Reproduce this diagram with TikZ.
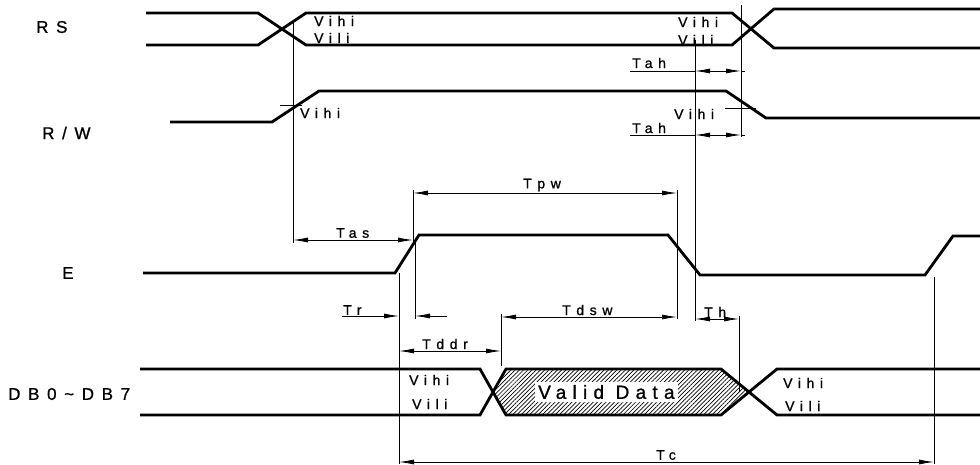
\documentclass[tikz,border=0pt]{standalone}
\usepackage{fontspec}
\setmainfont{Liberation Sans}
\newfontfamily\bigfont[LetterSpace=45,FakeBold=1]{Liberation Sans}
\newfontfamily\smfont[LetterSpace=40,FakeBold=1]{Liberation Sans}
\newfontfamily\vdfont[LetterSpace=33,FakeBold=1]{Liberation Sans}
\usetikzlibrary{arrows.meta,patterns.meta}
\begin{document}
\begin{tikzpicture}[x=1pt,y=-1pt,
 sig/.style={line width=2.8pt,line join=miter},
 ext/.style={line width=0.8pt},
 dim/.style={line width=0.8pt},
 onetip/.style={dim,-{Latex[length=15pt,width=5pt]}},
 twotips/.style={dim,{Latex[length=15pt,width=5pt]}-{Latex[length=15pt,width=5pt]}},
 big/.style={font=\bigfont\fontsize{17}{17}\selectfont, inner sep=0pt},
 sm/.style={font=\smfont\fontsize{14}{14}\selectfont, inner sep=0pt},
 vd/.style={font=\vdfont\fontsize{19}{19}\selectfont, fill=white, inner xsep=3pt, inner ysep=3pt},
]
\useasboundingbox[fill=white] (0,0) rectangle (980,465);

% ---------- signal names
\node[big,anchor=west] (nRS) at (36,27) {RS};
\node[big,anchor=west] (nRW) at (42,133) {R/W};
\node[big,anchor=west] (nE)  at (62,273) {E};
\node[big,anchor=west] (nDB) at (8,394) {DB0\char"007E DB7};

% ---------- hatched valid data region
\coordinate (xl) at (493,392);
\coordinate (xr) at (749,392);
\path[pattern={Lines[angle=45,distance=3pt,line width=0.7pt]}]
  (xl) -- (506,369) -- (721,369) -- (xr) -- (721,415) -- (506,415) -- cycle;
\node[vd,anchor=west] (valid) at (535,392) {Valid Data};

% ---------- signals
% RS
\draw[sig] (146,13) -- (258,13) -- (306,45) -- (732,45) -- (774,9) -- (980,9);
\draw[sig] (146,45) -- (258,45) -- (306,13) -- (732,13) -- (774,48) -- (980,48);
% R/W
\draw[sig] (170,122) -- (272,122) -- (319,91) -- (726,91) -- (766,118) -- (980,118);
% E
\draw[sig] (143,273) -- (395,273) -- (419,235) -- (668,235) -- (700,275) -- (925,275) -- (953,236) -- (980,236);
% DB
\draw[sig] (140,369) -- (480,369) -- (506,415) -- (721,415) -- (777,369) -- (980,369);
\draw[sig] (140,415) -- (480,415) -- (506,369) -- (721,369) -- (777,415) -- (980,415);

% ---------- level labels
\node[sm,anchor=west] (v1) at (314,21) {Vihi};
\node[sm,anchor=west] (v2) at (314,38) {Vili};
\node[sm,anchor=west] (v3) at (678,22) {Vihi};
\node[sm,anchor=west] (v4) at (678,40) {Vili};
\node[sm,anchor=west] (v5) at (300,113) {Vihi};
\node[sm,anchor=west] (v6) at (674,114) {Vihi};
\node[sm,anchor=west] (v7) at (409,380) {Vihi};
\node[sm,anchor=west] (v8) at (412,404) {Vili};
\node[sm,anchor=west] (v9) at (783,383) {Vihi};
\node[sm,anchor=west] (v10) at (785,406) {Vili};

% threshold ticks on R/W
\draw[ext] (280,105) -- (302,105);
\draw[ext] (725,108) -- (756,108);

% ---------- extension lines
\coordinate (a1) at (293,20);   \coordinate (a2) at (293,243);
\coordinate (b1) at (741,5);    \coordinate (b2) at (741,137);
\coordinate (c1) at (695,40);   \coordinate (c2) at (695,321);
\coordinate (d1) at (413,190);  \coordinate (d2) at (413,243);
\coordinate (e1) at (677,190);  \coordinate (e2) at (677,319);
\coordinate (f1) at (399,273);  \coordinate (f2) at (399,464);
\coordinate (g1) at (415,243);  \coordinate (g2) at (415,319);
\coordinate (h1) at (501,314);  \coordinate (h2) at (501,366);
\coordinate (i1) at (739,316);  \coordinate (i2) at (739,392);
\coordinate (j1) at (934,277);  \coordinate (j2) at (934,464);
\foreach \p/\q in {a1/a2,b1/b2,c1/c2,d1/d2,e1/e2,f1/f2,g1/g2,h1/h2,i1/i2,j1/j2}
  \draw[ext] (\p) -- (\q);

% ---------- dimensions
% Tah (RS)
\draw[dim] (630,71) -- (695,71);
\draw[twotips] (695,71) -- (741,71);
\draw[dim] (741,71) -- (745,71);
\node[sm,anchor=west] (tah1) at (632,63) {Tah};
% Tah (R/W)
\draw[dim] (630,135) -- (695,135);
\draw[twotips] (695,135) -- (741,135);
\draw[dim] (741,135) -- (745,135);
\node[sm,anchor=west] (tah2) at (632,128) {Tah};
% Tas
\draw[twotips] (293,240) -- (413,240);
\node[sm,anchor=west] (tas) at (336,233) {Tas};
% Tpw
\draw[twotips] (413,193) -- (677,193);
\node[sm,anchor=west] (tpw) at (523,185) {Tpw};
% Tr
\draw[onetip] (342,316) -- (399,316);
\draw[onetip] (447,316) -- (415,316);
\node[sm,anchor=west] (tr) at (343,310) {Tr};
% Tdsw
\draw[twotips] (501,317) -- (677,317);
\node[sm,anchor=west] (tdsw) at (562,310) {Tdsw};
% Th
\draw[twotips] (695,319) -- (739,319);
\node[sm,anchor=west] (th) at (704,312) {Th};
% Tddr
\draw[twotips] (399,351) -- (501,351);
\node[sm,anchor=west] (tddr) at (422,344) {Tddr};
% Tc
\draw[twotips] (399,462) -- (934,462);
\node[sm,anchor=west] (tc) at (656,455) {Tc};
\end{tikzpicture}
\end{document}
